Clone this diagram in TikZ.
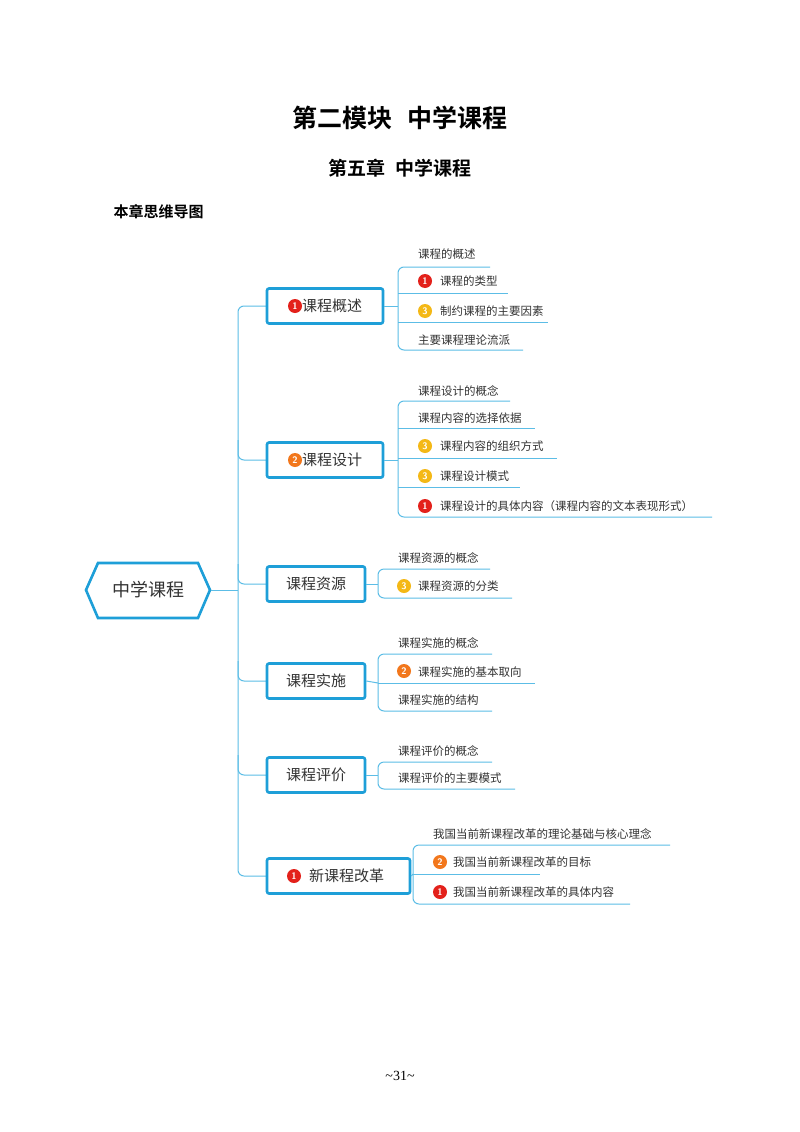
\documentclass[tikz,border=0pt]{standalone}
\usepackage{fontspec}
\setmainfont{Liberation Serif}
\newfontfamily\cjk{Noto Sans CJK SC}
\newfontfamily\cjkb{Noto Sans CJK SC Bold}
\definecolor{boxblue}{HTML}{1E9FD8}
\definecolor{lineblue}{HTML}{5CBDE6}
\definecolor{bred}{HTML}{E3211B}
\definecolor{borange}{HTML}{F2771C}
\definecolor{byellow}{HTML}{F4B816}
\definecolor{txt}{HTML}{333333}
\begin{document}
\begin{tikzpicture}[x=1pt,y=-1pt,
  box/.style={draw=boxblue,line width=2.6pt,rounded corners=2pt,minimum height=35pt,fill=white,font=\cjk\fontsize{15}{15}\selectfont,text=txt,inner xsep=0pt},
  leaf/.style={anchor=west,font=\cjk\fontsize{11.5}{12}\selectfont,text=txt,inner sep=0pt},
  ln/.style={draw=lineblue,line width=1pt},
  badge/.style={circle,inner sep=0pt,minimum size=14pt,text=white,font=\sffamily\bfseries\fontsize{9.5}{10}\selectfont},
  bgr/.style={badge,fill=bred},bgo/.style={badge,fill=borange},bgy/.style={badge,fill=byellow}]
\useasboundingbox (0,0) rectangle (800,1132);
\fill[white] (0,0) rectangle (800,1132);
% titles
\node[font=\cjkb\fontsize{25}{25}\selectfont] (t1) at (400,118) {第二模块\hspace{0.6em}中学课程};
\node[font=\cjkb\fontsize{19}{19}\selectfont] (t2) at (400,168) {第五章\hspace{0.5em}中学课程};
\node[font=\cjkb\fontsize{15}{15}\selectfont,anchor=west] (t3) at (110,212) {本章思维导图};
\node[font=\fontsize{14}{14}\selectfont] (pg) at (400,1076) {\textasciitilde31\textasciitilde};
% root
\draw[draw=boxblue,line width=2.6pt,fill=white] (86,590)--(98,563)--(198,563)--(210,590)--(198,618)--(98,618)--cycle;
\node[font=\cjk\fontsize{18}{18}\selectfont,text=txt] (root) at (148,590) {中学课程};
\coordinate (rootE) at (211,590);
% trunk
\draw[ln,rounded corners=6pt] (267,306) -- (238,306) -- (238,876) -- (267,876);
\draw[ln] (rootE) -- (238,590);
\draw[ln,rounded corners=6pt] (238,440) |- (267,460);
\draw[ln,rounded corners=6pt] (238,564) |- (267,584);
\draw[ln,rounded corners=6pt] (238,661) |- (267,681);
\draw[ln,rounded corners=6pt] (238,755) |- (267,775);
% boxes
\node[box,minimum width=116pt] (b1) at (325,306) {\hspace{14pt}课程概述};
\node[bgr] (k1) at (295,306) {1};
\node[box,minimum width=116pt] (b2) at (325,460) {\hspace{14pt}课程设计};
\node[bgo] (k2) at (295,460) {2};
\node[box,minimum width=98pt] (b3) at (316,584) {课程资源};
\node[box,minimum width=98pt] (b4) at (316,681) {课程实施};
\node[box,minimum width=98pt] (b5) at (316,775) {课程评价};
\node[box,minimum width=143pt] (b6) at (338.5,876) {\hspace{16pt}新课程改革};
\node[bgr] (k6) at (294,876) {1};
% branch 1
\draw[ln] (b1.east) -- (398,306);
\draw[ln,rounded corners=6pt] (490,267) -- (398,267) -- (398,350) -- (523,350);
\draw[ln] (398,293) -- (508,293);
\draw[ln] (398,322) -- (548,322);
\node[leaf] (l11) at (418,254) {课程的概述};
\node[bgr] (k12) at (425,281) {1};\node[leaf] (l12) at (440,281) {课程的类型};
\node[bgy] (k13) at (425,311) {3};\node[leaf] (l13) at (440,311) {制约课程的主要因素};
\node[leaf] (l14) at (418,340) {主要课程理论流派};
% branch 2
\draw[ln] (b2.east) -- (398,460);
\draw[ln,rounded corners=6pt] (510,401) -- (398,401) -- (398,517) -- (712,517);
\draw[ln] (398,428) -- (535,428);
\draw[ln] (398,458) -- (557,458);
\draw[ln] (398,487) -- (520,487);
\node[leaf] (l21) at (418,391) {课程设计的概念};
\node[leaf] (l22) at (418,418) {课程内容的选择依据};
\node[bgy] (k23) at (425,446) {3};\node[leaf] (l23) at (440,446) {课程内容的组织方式};
\node[bgy] (k24) at (425,476) {3};\node[leaf] (l24) at (440,476) {课程设计模式};
\node[bgr] (k25) at (425,506) {1};\node[leaf] (l25) at (440,506) {课程设计的具体内容（课程内容的文本表现形式）};
% branch 3
\draw[ln] (b3.east) -- (378,584);
\draw[ln,rounded corners=6pt] (490,569) -- (378,569) -- (378,598) -- (512,598);
\node[leaf] (l31) at (398,558) {课程资源的概念};
\node[bgy] (k32) at (404,586) {3};\node[leaf] (l32) at (418,586) {课程资源的分类};
% branch 4
\draw[ln] (b4.east) -- (378,683);
\draw[ln,rounded corners=6pt] (492,654) -- (378,654) -- (378,711) -- (492,711);
\draw[ln] (378,683) -- (535,683);
\node[leaf] (l41) at (398,643) {课程实施的概念};
\node[bgo] (k42) at (404,671) {2};\node[leaf] (l42) at (418,672) {课程实施的基本取向};
\node[leaf] (l43) at (398,700) {课程实施的结构};
% branch 5
\draw[ln] (b5.east) -- (378,775);
\draw[ln,rounded corners=6pt] (492,762) -- (378,762) -- (378,789) -- (515,789);
\node[leaf] (l51) at (398,751) {课程评价的概念};
\node[leaf] (l52) at (398,778) {课程评价的主要模式};
% branch 6
\draw[ln] (b6.east) -- (413,874);
\draw[ln,rounded corners=6pt] (670,845) -- (413,845) -- (413,904) -- (630,904);
\draw[ln] (413,874) -- (540,874);
\node[leaf] (l61) at (433,834) {我国当前新课程改革的理论基础与核心理念};
\node[bgo] (k62) at (440,862) {2};\node[leaf] (l62) at (453,862) {我国当前新课程改革的目标};
\node[bgr] (k63) at (440,892) {1};\node[leaf] (l63) at (453,892) {我国当前新课程改革的具体内容};
\end{tikzpicture}
\end{document}
